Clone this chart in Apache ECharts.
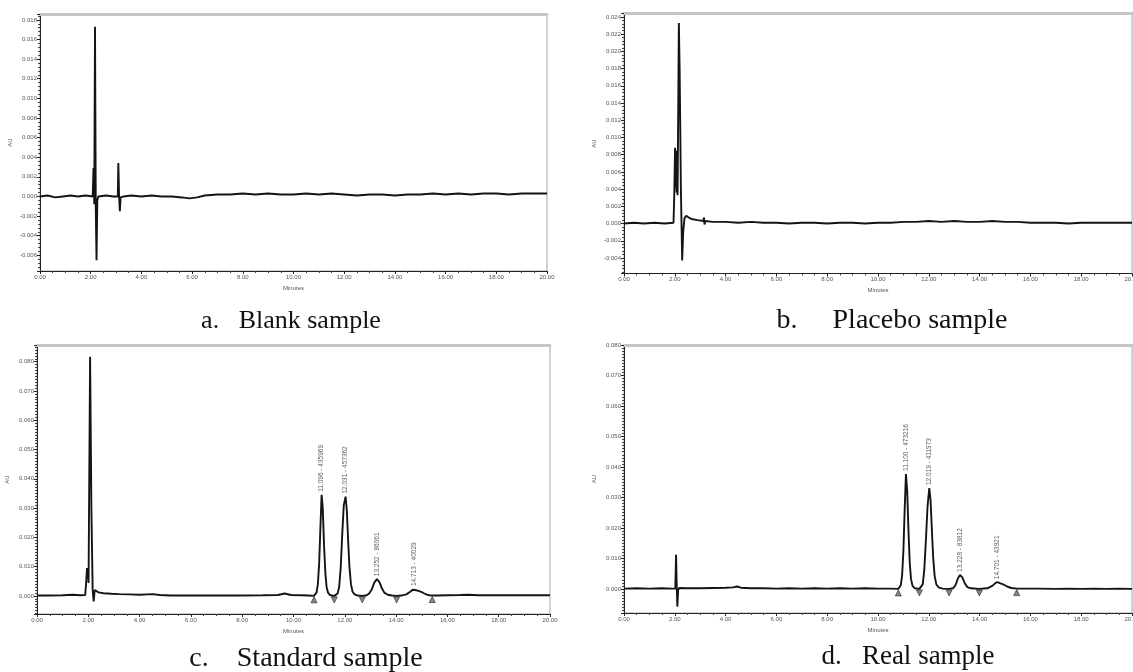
<!DOCTYPE html>
<html>
<head>
<meta charset="utf-8">
<script src="https://cdn.jsdelivr.net/npm/echarts@6/dist/echarts.min.js"></script>
<style>
  html, body { margin: 0; padding: 0; background: #ffffff; }
  #chart { width: 1133px; height: 672px; }
</style>
</head>
<body>
<div id="chart"></div>
<script>
// ---- Chromatogram traces: [minutes, AU] ----
const blankTrace = [
  [0.0, 0.0000], [0.3, 0.0001], [0.6, -0.0001], [0.9, 0.0000], [1.2, 0.0001], [1.5, 0.0000], [1.8, 0.0001],
  [2.08, 0.0000], [2.11, 0.0029], [2.13, 0.0026], [2.14, -0.0008], [2.17, 0.0173], [2.20, -0.0010],
  [2.23, -0.0065], [2.26, -0.0004], [2.30, 0.0000], [2.6, 0.0001], [2.9, 0.0000],
  [3.07, 0.0000], [3.09, 0.0034], [3.12, 0.0000], [3.15, -0.0015], [3.18, -0.0001], [3.3, 0.0000],
  [3.6, 0.0001], [4.0, 0.0000], [4.4, 0.0001], [4.8, 0.0000], [5.2, 0.0000], [5.6, -0.0001],
  [5.9, -0.0002], [6.2, -0.0001], [6.5, 0.0001], [7.0, 0.0002], [7.5, 0.0002], [8.0, 0.0003],
  [8.5, 0.0002], [9.0, 0.0003], [9.5, 0.0002], [10.0, 0.0002], [10.5, 0.0003], [11.0, 0.0002],
  [11.5, 0.0003], [12.0, 0.0002], [12.5, 0.0001], [13.0, 0.0002], [13.5, 0.0002], [14.0, 0.0001],
  [14.5, 0.0002], [15.0, 0.0002], [15.5, 0.0003], [16.0, 0.0002], [16.5, 0.0003], [17.0, 0.0002],
  [17.5, 0.0003], [18.0, 0.0003], [18.5, 0.0002], [19.0, 0.0003], [19.5, 0.0003], [20.0, 0.0003]
];

const placeboTrace = [
  [0.0, 0.0000], [0.4, 0.0001], [0.8, 0.0000], [1.2, 0.0001], [1.6, 0.0000], [1.95, 0.0001],
  [1.98, 0.0035], [2.01, 0.0088], [2.03, 0.0042], [2.05, 0.0085], [2.07, 0.0036], [2.09, 0.0060],
  [2.11, 0.0033], [2.16, 0.0233], [2.19, 0.0180], [2.24, 0.0040], [2.29, -0.0043], [2.33, -0.0010],
  [2.38, 0.0006], [2.45, 0.0009], [2.55, 0.0007], [2.7, 0.0005], [2.9, 0.0004], [3.12, 0.0003],
  [3.15, 0.0007], [3.17, -0.0001], [3.2, 0.0003], [3.5, 0.0002], [4.0, 0.0002], [4.5, 0.0001],
  [5.0, 0.0002], [5.5, 0.0001], [6.0, 0.0001], [6.5, 0.0000], [7.0, 0.0001], [7.5, 0.0001],
  [8.0, 0.0000], [8.5, 0.0001], [9.0, 0.0001], [9.5, 0.0000], [10.0, 0.0001], [10.5, 0.0001],
  [11.0, 0.0002], [11.5, 0.0002], [12.0, 0.0003], [12.5, 0.0002], [13.0, 0.0003], [13.5, 0.0002],
  [14.0, 0.0002], [14.5, 0.0003], [15.0, 0.0002], [15.5, 0.0002], [16.0, 0.0001], [16.5, 0.0001],
  [17.0, 0.0001], [17.5, 0.0000], [18.0, 0.0001], [18.5, 0.0001], [19.0, 0.0001], [19.5, 0.0001],
  [20.0, 0.0001]
];

const standardTrace = [
  [0.0, 0.0001], [0.5, 0.0001], [1.0, 0.0002], [1.4, 0.0004], [1.7, 0.0002], [1.88, 0.0003],
  [1.92, 0.0050], [1.95, 0.0095], [1.97, 0.0060], [1.99, 0.0090], [2.01, 0.0044],
  [2.07, 0.0817], [2.12, 0.0300], [2.17, 0.0020], [2.21, -0.0019], [2.25, 0.0020], [2.29, 0.0018],
  [2.4, 0.0012], [2.6, 0.0009], [2.9, 0.0007], [3.2, 0.0006], [3.6, 0.0005], [4.0, 0.0004],
  [4.5, 0.0006], [4.8, 0.0003], [5.2, 0.0001], [5.8, 0.0001], [6.5, 0.0001], [7.2, 0.0001],
  [8.0, 0.0001], [8.8, 0.0002], [9.4, 0.0003], [9.65, 0.0008], [9.9, 0.0003], [10.3, 0.0002],
  [10.6, 0.0001], [10.8, 0.0000],
  [10.85, 0.0003], [10.90, 0.0012], [10.95, 0.0040], [11.00, 0.0110], [11.05, 0.0235], [11.096, 0.0345],
  [11.14, 0.0300], [11.19, 0.0175], [11.24, 0.0080], [11.29, 0.0030], [11.35, 0.0010], [11.42, 0.0003],
  [11.5, 0.0001], [11.59, 0.0000],
  [11.65, 0.0002], [11.72, 0.0008], [11.78, 0.0030], [11.84, 0.0095], [11.90, 0.0210], [11.96, 0.0310],
  [12.031, 0.0339], [12.08, 0.0290], [12.13, 0.0190], [12.18, 0.0100], [12.24, 0.0040], [12.30, 0.0015],
  [12.38, 0.0005], [12.5, 0.0001], [12.68, 0.0000],
  [12.85, 0.0002], [12.95, 0.0008], [13.05, 0.0022], [13.15, 0.0045], [13.252, 0.0057], [13.35, 0.0047],
  [13.45, 0.0025], [13.55, 0.0010], [13.7, 0.0003], [13.85, 0.0001], [14.02, 0.0000],
  [14.2, 0.0001], [14.4, 0.0005], [14.55, 0.0014], [14.65, 0.0021], [14.713, 0.0023], [14.8, 0.0019],
  [14.9, 0.0016], [15.0, 0.0013], [15.1, 0.0008], [15.2, 0.0004], [15.3, 0.0002], [15.41, 0.0001],
  [15.6, 0.0001], [16.0, 0.0002], [16.5, 0.0003], [16.8, 0.0004], [17.2, 0.0002], [17.8, 0.0002],
  [18.5, 0.0002], [19.2, 0.0002], [20.0, 0.0002]
];

const realTrace = [
  [0.0, 0.0001], [0.5, 0.0002], [1.0, 0.0001], [1.5, 0.0002], [1.9, 0.0001], [2.02, 0.0001],
  [2.05, 0.0112], [2.07, 0.0030], [2.10, -0.0058], [2.13, -0.0005], [2.17, 0.0003], [2.5, 0.0002],
  [3.0, 0.0002], [3.5, 0.0003], [4.0, 0.0004], [4.3, 0.0005], [4.45, 0.0008], [4.6, 0.0004],
  [5.0, 0.0002], [5.5, 0.0002], [6.0, 0.0001], [6.5, 0.0002], [7.0, 0.0001], [7.5, 0.0002],
  [8.0, 0.0001], [8.5, 0.0002], [9.0, 0.0001], [9.5, 0.0002], [10.0, 0.0001], [10.5, 0.0001],
  [10.8, 0.0000],
  [10.85, 0.0003], [10.90, 0.0013], [10.95, 0.0045], [11.00, 0.0125], [11.05, 0.0260], [11.100, 0.0377],
  [11.15, 0.0320], [11.20, 0.0190], [11.25, 0.0085], [11.30, 0.0032], [11.36, 0.0010], [11.45, 0.0002],
  [11.63, 0.0000],
  [11.70, 0.0003], [11.76, 0.0015], [11.82, 0.0060], [11.88, 0.0150], [11.95, 0.0270], [12.019, 0.0331],
  [12.07, 0.0290], [12.12, 0.0195], [12.17, 0.0105], [12.23, 0.0042], [12.30, 0.0014], [12.40, 0.0004],
  [12.55, 0.0001], [12.8, 0.0000],
  [12.95, 0.0002], [13.05, 0.0012], [13.15, 0.0035], [13.228, 0.0046], [13.32, 0.0038], [13.42, 0.0018],
  [13.52, 0.0006], [13.65, 0.0002], [13.99, 0.0000],
  [14.3, 0.0002], [14.5, 0.0010], [14.62, 0.0019], [14.701, 0.0022], [14.8, 0.0019], [14.9, 0.0016],
  [15.0, 0.0012], [15.1, 0.0007], [15.25, 0.0003], [15.46, 0.0001],
  [15.8, 0.0001], [16.3, 0.0001], [17.0, 0.0000], [17.5, 0.0001], [18.0, 0.0000], [18.5, 0.0001],
  [19.0, 0.0000], [19.5, 0.0001], [20.0, 0.0000]
];

// ---- Integrated peaks: retention time, area, baseline start/end and valley drop points ----
const standardPeakTimes = [11.096, 12.031, 13.252, 14.713];
const standardPeakAreas = [435969, 457362, 86061, 40029];
const standardBaseEnds = [10.8, 15.41];
const standardValleys = [11.59, 12.68, 14.02];

const realPeakTimes = [11.100, 12.019, 13.228, 14.701];
const realPeakAreas = [473216, 411973, 83812, 43921];
const realBaseEnds = [10.8, 15.46];
const realValleys = [11.63, 12.8, 13.99];

const captions = ['a.   Blank sample', 'b.     Placebo sample', 'c.    Standard sample', 'd.   Real sample'];
const xTickStep = 2;

// ---- Panel layout ----
const panels = [
  { trace: blankTrace, grid: { left: 40, top: 14, width: 507, height: 257 },
    yMin: -0.0076, yMax: 0.0186, split: 13, minor: 5, showMax: false, cap: [291, 321], capSize: 26 },
  { trace: placeboTrace, grid: { left: 624, top: 13.5, width: 508, height: 260 },
    yMin: -0.0058, yMax: 0.0244, split: 15, minor: 5, showMax: false, cap: [892, 321], capSize: 28 },
  { trace: standardTrace, grid: { left: 37, top: 345, width: 513, height: 269 },
    yMin: -0.0062, yMax: 0.0857, split: 9, minor: 10, showMax: false, cap: [306, 659], capSize: 28,
    peaks: standardPeakTimes, areas: standardPeakAreas, ends: standardBaseEnds, valleys: standardValleys },
  { trace: realTrace, grid: { left: 624, top: 345, width: 508, height: 268 },
    yMin: -0.0079, yMax: 0.080, split: 9, minor: 10, showMax: true, cap: [908, 657], capSize: 27,
    peaks: realPeakTimes, areas: realPeakAreas, ends: realBaseEnds, valleys: realValleys }
];

const valueAt = (trace, t) => {
  const hit = trace.find(p => p[0] === t);
  if (hit) return hit[1];
  // nearest recorded point
  let best = trace[0];
  for (const p of trace) if (Math.abs(p[0] - t) < Math.abs(best[0] - t)) best = p;
  return best[1];
};

const tickFont = { fontSize: 6, color: '#555', fontFamily: 'Liberation Sans' };
const ink = '#141414';

const grid = [], xAxis = [], yAxis = [], series = [];

panels.forEach((p, i) => {
  grid.push(Object.assign({ show: true, borderColor: '#a6a6a6', borderWidth: 1, outerBoundsMode: 'none' }, p.grid));

  xAxis.push({
    gridIndex: i, type: 'value', min: 0, max: 20, interval: xTickStep,
    axisLine: { show: true, onZero: false, lineStyle: { color: '#222', width: 1 } },
    axisTick: { show: true, length: 3, lineStyle: { color: '#222' } },
    minorTick: { show: true, splitNumber: 4, length: 2, lineStyle: { color: '#444' } },
    splitLine: { show: false },
    axisLabel: Object.assign({ margin: 3, formatter: v => v.toFixed(2) }, tickFont),
    name: 'Minutes', nameLocation: 'middle', nameGap: 14,
    nameTextStyle: { fontSize: 6, color: '#555', fontFamily: 'Liberation Sans' }
  });
  xAxis.push({
    gridIndex: i, type: 'value', min: 0, max: 20, position: 'top',
    axisLine: { show: true, onZero: false, lineStyle: { color: '#c6c6c6', width: 3 } },
    axisTick: { show: false }, axisLabel: { show: false }, splitLine: { show: false }
  });

  yAxis.push({
    gridIndex: i, type: 'value', min: p.yMin, max: p.yMax, splitNumber: p.split,
    axisLine: { show: true, onZero: false, lineStyle: { color: '#222', width: 1 } },
    axisTick: { show: true, length: 3, lineStyle: { color: '#222' } },
    minorTick: { show: true, splitNumber: p.minor, length: 2, lineStyle: { color: '#444' } },
    splitLine: { show: false },
    axisLabel: Object.assign({ margin: 3, showMinLabel: false, showMaxLabel: p.showMax,
      formatter: v => v.toFixed(3) }, tickFont),
    name: 'AU', nameLocation: 'middle', nameGap: 27, nameRotate: 90,
    nameTextStyle: { fontSize: 6, color: '#555', fontFamily: 'Liberation Sans' }
  });

  series.push({
    type: 'line', xAxisIndex: 2 * i, yAxisIndex: i, data: p.trace,
    showSymbol: false, silent: true, animation: false,
    lineStyle: { color: ink, width: 1.9 }
  });

  if (p.peaks) {
    // retention time / area labels above each apex
    series.push({
      type: 'scatter', xAxisIndex: 2 * i, yAxisIndex: i, symbolSize: 0, silent: true, animation: false,
      data: p.peaks.map((t, k) => ({
        value: [t, valueAt(p.trace, t)],
        label: { formatter: t.toFixed(3) + ' - ' + p.areas[k] }
      })),
      label: { show: true, position: 'top', distance: 3, rotate: 90, align: 'left', verticalAlign: 'middle',
        fontSize: 6.5, color: '#333', fontFamily: 'Liberation Sans' }
    });
    // baseline start / end markers
    series.push({
      type: 'scatter', xAxisIndex: 2 * i, yAxisIndex: i, symbol: 'triangle', symbolSize: 6,
      symbolOffset: [0, 4], silent: true, animation: false,
      data: p.ends.map(t => [t, valueAt(p.trace, t)]),
      itemStyle: { color: '#6a6a6a', borderColor: '#222', borderWidth: 0.8 }
    });
    // valley drop markers
    series.push({
      type: 'scatter', xAxisIndex: 2 * i, yAxisIndex: i, symbol: 'triangle', symbolRotate: 180, symbolSize: 6,
      symbolOffset: [0, 4], silent: true, animation: false,
      data: p.valleys.map(t => [t, valueAt(p.trace, t)]),
      itemStyle: { color: '#6a6a6a', borderColor: '#222', borderWidth: 0.8 }
    });
  }
});

const graphic = panels.map((p, i) => ({
  type: 'text', x: p.cap[0], y: p.cap[1], silent: true,
  style: { text: captions[i], font: p.capSize + 'px "Liberation Serif"', fill: '#111',
    textAlign: 'center', textVerticalAlign: 'middle' }
}));

const chart = echarts.init(document.getElementById('chart'), null, { renderer: 'canvas' });
chart.setOption({
  backgroundColor: '#ffffff',
  animation: false,
  grid, xAxis, yAxis, series, graphic
});
</script>
</body>
</html>
